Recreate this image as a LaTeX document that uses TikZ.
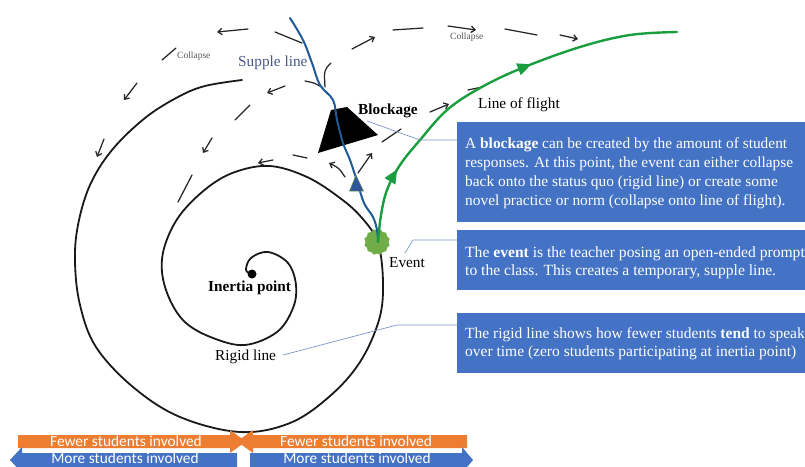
\documentclass[tikz,border=0pt]{standalone}
\usepackage{fontspec}
\setmainfont{Liberation Serif}
\newfontfamily\calib{Carlito}
\usetikzlibrary{arrows.meta,decorations.markings,shapes.geometric}
\definecolor{boxblue}{RGB}{68,114,196}
\definecolor{orangebar}{RGB}{237,125,49}
\definecolor{flightgreen}{RGB}{24,158,62}
\definecolor{evgreen}{RGB}{112,173,71}
\definecolor{suppleblue}{RGB}{31,90,150}
\definecolor{suppletext}{RGB}{72,88,140}
\definecolor{callcol}{RGB}{125,150,200}
\definecolor{collgrey}{RGB}{85,85,85}
\definecolor{triblue}{RGB}{46,85,151}
\begin{document}
\begin{tikzpicture}[x=1pt,y=-1pt,
  spiral/.style={line width=1.8pt, black!90, line cap=round},
  dsh/.style={line width=1.25pt, black!85, line cap=round},
  dar/.style={dsh, -{Straight Barb[length=4pt,width=6.5pt]}},
  callout/.style={draw=callcol, line width=0.7pt},
  bluebox/.style={fill=boxblue, draw=none},
  boxtext/.style={text=white, align=left, anchor=north west, inner sep=0pt},
  lbl/.style={inner sep=0pt, font=\fontsize{15.3}{18}\selectfont},
  coll/.style={inner sep=0pt, text=collgrey, font=\fontsize{9.5}{11}\selectfont},
  bartext/.style={inner sep=0pt, text=white, font=\calib\fontsize{15.4}{16}\selectfont}
]
\useasboundingbox (0,0) rectangle (805,466);

% spiral (rigid line)
\draw[spiral] plot[smooth, tension=0.6] coordinates {
 (242,80) (205,86) (178,97) (145,118) (112,150) (90,185) (78,225) (75,262)
 (80,305) (96,347) (133,387) (180,417) (240,432) (290,423) (330,396)
 (360,362) (379,320) (383,283) (378,243) (362,218) (340,198) (307,177)
 (270,166) (235,172) (207,188) (180,215) (165,245) (162,272) (170,300)
 (186,323) (213,338) (245,345) (277,332) (293,308) (296,285) (288,263)
 (268,252) (251,258) (246,270) (252,274)};
\fill[black] (252,274) circle (4.5pt);

% dashed collapse arrows
\draw[dsh] (302,43) -- (275,32);
\draw[dar] (248,29) -- (217,32);
\draw[dsh] (176,48) -- (162,60);
\draw[dar] (137,83) -- (124,100);
\draw[dar] (104,139) -- (97,157);
\draw[dsh] (331,63) .. controls (324,70) .. (325,87);
\draw[dsh] (323,88) .. controls (315,83) .. (305,81);
\draw[dar] (285,86) -- (267,93);
\draw[dsh] (250,105) -- (235,120);
\draw[dar] (212,138) -- (203,153);
\draw[dsh] (192,175) -- (178,202);
\draw[dar] (345,177) .. controls (339,168) .. (329,163);
\draw[dsh] (307,158) -- (293,155);
\draw[dar] (273,160) -- (258,163);
\draw[dar] (358,173) -- (372,153);
\draw[dsh] (382,142) -- (401,129);
\draw[dar] (430,112) -- (449,104);
\draw[dsh] (468,90) -- (482,87);
\draw[dar] (352,49) -- (375,37);
\draw[dsh] (393,30) -- (423,28);
\draw[dar] (448,26) -- (476,30);
\draw[dsh] (505,29) -- (537,35);
\draw[dar] (560,35) -- (578,39);

% blockage
\fill[black] (331,110) -- (347,107) -- (378,135) -- (318,153) -- cycle;

% event
\node[star, star points=12, star point ratio=0.88, minimum size=23pt,
      inner sep=0pt, fill=evgreen, draw=none] (ev) at (377,242) {};

% supple line
\draw[suppleblue, line width=2pt, line cap=round] plot[smooth, tension=0.6] coordinates {
 (290,18) (303,40) (312,63) (320,85) (333,100) (337,120) (343,143) (350,160)
 (357,181) (364,203) (373,217) (377,230) (378,242)};
\fill[triblue, draw=evgreen!60!gray, line width=0.5pt] (356,175) -- (363.5,191) -- (349.5,191) -- cycle;

% line of flight
\draw[flightgreen, line width=2.4pt, line cap=round, postaction={decorate},
  decoration={markings,
    mark=at position 0.19 with {\arrow{Triangle[length=14pt,width=12pt]}},
    mark=at position 0.625 with {\arrow{Triangle[length=14pt,width=12pt]}}}]
  plot[smooth, tension=0.6] coordinates {
 (378,242) (381,215) (387,190) (400,165) (420,140) (447,110) (480,88)
 (522,68) (580,47) (630,35) (677,32)};

% labels
\node[lbl, anchor=west, text=suppletext] (sup) at (238,63) {Supple line};
\node[lbl, anchor=west, font=\bfseries\fontsize{15.3}{18}\selectfont] (blk) at (358,111) {Blockage};
\node[lbl, anchor=west] (lof) at (478,105) {Line of flight};
\node[lbl, anchor=west] (evl) at (389,263) {Event};
\node[lbl, anchor=west, font=\bfseries\fontsize{15.3}{18}\selectfont] (inp) at (208,288) {Inertia point};
\node[lbl, anchor=west] (rgl) at (215,357) {Rigid line};
\node[coll, anchor=west] (col1) at (177,56) {Collapse};
\node[coll, anchor=west] (col2) at (450,37) {Collapse};

% boxes
\fill[bluebox] (457,122) rectangle (812,222);
\fill[bluebox] (457,230) rectangle (812,290);
\fill[bluebox] (457,313) rectangle (812,373);
\node[boxtext, font=\fontsize{15.4}{19.2}\selectfont] (b1) at (465,137) {A \textbf{blockage} can be created by the amount of student\\ responses. At this point, the event can either collapse\\ back onto the status quo (rigid line) or create some\\ novel practice or norm (collapse onto line of flight).};
\node[boxtext, font=\fontsize{15.6}{18.3}\selectfont] (b2) at (465,246.5) {The \textbf{event} is the teacher posing an open-ended prompt\\ to the class. This creates a temporary, supple line.};
\node[boxtext, font=\fontsize{15.5}{17.6}\selectfont] (b3) at (465,327.5) {The rigid line shows how fewer students \textbf{tend} to speak\\ over time (zero students participating at inertia point)};

% callouts
\coordinate (k1) at (367,121); \coordinate (k2) at (420,140); \coordinate (k3) at (457,140);
\coordinate (e1) at (405,253); \coordinate (e2) at (413,240); \coordinate (e3) at (457,240);
\coordinate (r1) at (283,355); \coordinate (r2) at (397,325); \coordinate (r3) at (457,325);
\draw[callout] (k1) -- (k2) -- (k3);
\draw[callout] (e1) -- (e2) -- (e3);
\draw[callout] (r1) -- (r2) -- (r3);

% bottom arrows
\fill[orangebar] (18,435) -- (230,435) -- (230,430) -- (246,441.5) -- (230,453) -- (230,448) -- (18,448) -- cycle;
\fill[orangebar] (467,435) -- (253,435) -- (253,430) -- (237,441.5) -- (253,453) -- (253,448) -- (467,448) -- cycle;
\fill[boxblue] (10,460) -- (22,447) -- (22,453) -- (237,453) -- (237,467) -- (22,467) -- (22,473) -- cycle;
\fill[boxblue] (473,460) -- (462,447) -- (462,453) -- (250,453) -- (250,467) -- (462,467) -- (462,473) -- cycle;
\node[bartext] (f1) at (126,441.5) {Fewer students involved};
\node[bartext] (f2) at (356,441.5) {Fewer students involved};
\node[bartext, anchor=base] (m1) at (125,463) {More students involved};
\node[bartext, anchor=base] (m2) at (357,463) {More students involved};
\end{tikzpicture}
\end{document}
